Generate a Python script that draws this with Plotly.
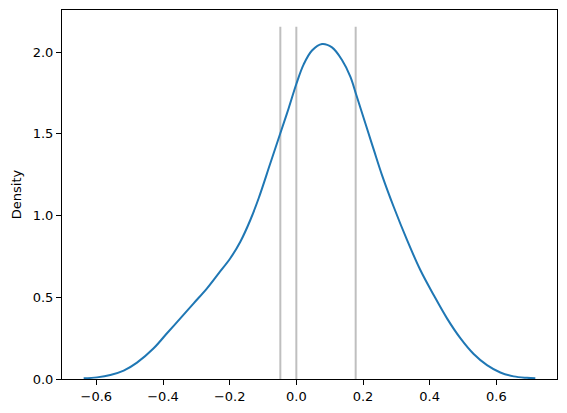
import plotly.graph_objects as go

# KDE curve
kde_x = [-0.638, -0.598, -0.558, -0.518, -0.478, -0.428, -0.388, -0.348, -0.308,
         -0.268, -0.233, -0.198, -0.168, -0.138, -0.113, -0.078, -0.048, -0.023,
         0.0, 0.022, 0.047, 0.077, 0.107, 0.137, 0.162, 0.180, 0.207, 0.232,
         0.257, 0.292, 0.332, 0.372, 0.412, 0.452, 0.492, 0.532, 0.572, 0.612,
         0.652, 0.692, 0.717]
kde_y = [0.004, 0.010, 0.024, 0.051, 0.100, 0.188, 0.280, 0.371, 0.463,
         0.555, 0.647, 0.739, 0.840, 0.973, 1.106, 1.320, 1.504, 1.657,
         1.805, 1.925, 2.010, 2.050, 2.029, 1.952, 1.850, 1.738, 1.565, 1.405,
         1.248, 1.054, 0.851, 0.667, 0.514, 0.371, 0.250, 0.153, 0.085, 0.040,
         0.016, 0.007, 0.004]

# grey marker lines
vline_x = [-0.048, 0.0, 0.178]
vline_top = 2.156

FONT = "DejaVu Sans"

fig = go.Figure()
for vx in vline_x:
    fig.add_trace(go.Scatter(x=[vx, vx], y=[0, vline_top], mode="lines",
                             line=dict(color="#bfbfbf", width=2), showlegend=False))
fig.add_trace(go.Scatter(x=kde_x, y=kde_y, mode="lines",
                         line=dict(color="#1f77b4", width=2, shape="spline", smoothing=1.0),
                         showlegend=False))

axis_style = dict(showgrid=False, zeroline=False, showline=True, linecolor="black",
                  linewidth=1, mirror=True, ticks="outside", ticklen=5, tickcolor="black",
                  tickfont=dict(family=FONT, size=13, color="black"))
fig.update_xaxes(range=[-0.703, 0.782], tickvals=[-0.6, -0.4, -0.2, 0.0, 0.2, 0.4, 0.6],
                 ticktext=["\u22120.6", "\u22120.4", "\u22120.2", "0.0", "0.2", "0.4", "0.6"],
                 **axis_style)
fig.update_yaxes(range=[0, 2.258], tickvals=[0, 0.5, 1.0, 1.5, 2.0],
                 ticktext=["0.0", "0.5", "1.0", "1.5", "2.0"],
                 title=dict(text="Density", font=dict(family=FONT, size=13, color="black"),
                            standoff=8),
                 **axis_style)
fig.update_layout(width=567, height=413, plot_bgcolor="white", paper_bgcolor="white",
                  margin=dict(l=54, r=18, t=2, b=42, autoexpand=False), font=dict(family=FONT))

fig.write_html("out.html")
